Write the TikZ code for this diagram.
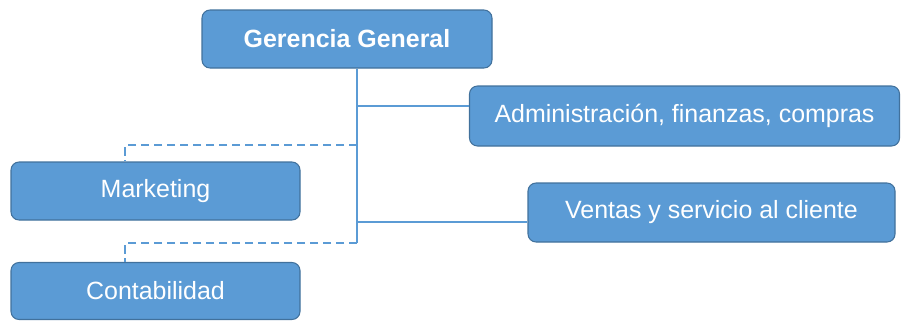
\documentclass[tikz,border=0pt]{standalone}
\usepackage{fontspec}
\setmainfont{Liberation Sans}
\definecolor{boxblue}{HTML}{5B9BD5}
\definecolor{boxedge}{HTML}{41719C}
\tikzset{
  unit/.style={draw=boxedge, fill=boxblue, text=white, rounded corners=0.16cm,
    inner sep=0pt, line width=0.6pt, font=\fontsize{14.2}{17}\selectfont},
  link/.style={draw=boxblue, line width=0.9pt},
  dlink/.style={link, dash pattern=on 0.17cm off 0.09cm}
}
\begin{document}
\begin{tikzpicture}
  \useasboundingbox (0,0) rectangle (18.02,-6.4);
      \node [unit, minimum width=5.8cm, minimum height=1.16cm] (gg) at (6.94,-0.78) {\textbf{Gerencia General}};
      \node [unit, minimum width=8.6cm, minimum height=1.2cm] (adm) at (13.69,-2.32) {Administración, finanzas, compras};
      \node [unit, minimum width=7.34cm, minimum height=1.18cm] (ven) at (14.23,-4.25) {Ventas y servicio al cliente};
      \node [unit, minimum width=5.78cm, minimum height=1.16cm] (mkt) at (3.11,-3.82) {Marketing};
      \node [unit, minimum width=5.78cm, minimum height=1.14cm] (con) at (3.11,-5.82) {Contabilidad};
      \coordinate (j1) at (7.14,-2.12);
      \coordinate (j2) at (7.14,-2.9);
      \coordinate (j3) at (7.14,-4.44);
      \coordinate (j4) at (7.14,-4.86);
      \coordinate (k1) at (2.5,-2.9);
      \coordinate (k2) at (2.5,-4.86);
      \draw [link] (gg.south -| j1) -- (j4);
      \draw [link] (j1) -- (j1 -| adm.west);
      \draw [link] (j3) -- (j3 -| ven.west);
      \draw [dlink] (j2) -- (k1) -- (k1 |- mkt.north);
      \draw [dlink] (j4) -- (k2) -- (k2 |- con.north);
\end{tikzpicture}
\end{document}
